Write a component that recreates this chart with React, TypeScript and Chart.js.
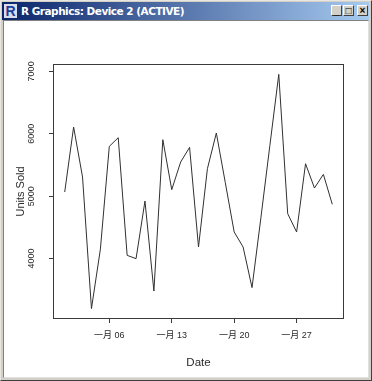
import React, { useEffect, useRef } from "react";
import { Chart, registerables } from "chart.js";

Chart.register(...registerables);

// Day of January 1..31
const days = [1, 2, 3, 4, 5, 6, 7, 8, 9, 10, 11, 12, 13, 14, 15, 16, 17, 18, 19, 20, 21, 22, 23, 24, 25, 26, 27, 28, 29, 30, 31];
const unitsSold = [5066, 6108, 5306, 3197, 4150, 5798, 5937, 4051, 3998, 4922, 3479, 5905, 5104, 5547, 5782, 4185, 5440, 6012, 5220, 4425, 4185, 3534, 4660, 5810, 6952, 4719, 4425, 5520, 5130, 5349, 4869];
const yTicks = [4000, 5000, 6000, 7000];
const xTickDays = [6, 13, 20, 27];
const xTickLabels = ["一月 06", "一月 13", "一月 20", "一月 27"];
const windowTitle = "R Graphics: Device 2 (ACTIVE)";
const xTitle = "Date";
const yTitle = "Units Sold";

const FONT = "'Liberation Sans', Arial, 'Noto Sans CJK SC', sans-serif";
const INK = "#2a2a2a";

export default function App() {
  const ref = useRef<HTMLCanvasElement | null>(null);

  useEffect(() => {
    if (!ref.current) return;
    const yMinD = Math.min(...unitsSold);
    const yMaxD = Math.max(...unitsSold);
    const yPad = (yMaxD - yMinD) * 0.04;
    const xPad = (days[days.length - 1] - days[0]) * 0.04;

    const boxPlugin = {
      id: "rbox",
      afterDraw(chart: any) {
        const { ctx, chartArea: a } = chart;
        ctx.save();
        ctx.strokeStyle = "#3a3a3a";
        ctx.lineWidth = 1;
        ctx.strokeRect(a.left - 0.5, a.top - 0.5, a.right - a.left + 1, a.bottom - a.top + 1);
        ctx.restore();
      },
    };

    const chart = new Chart(ref.current, {
      type: "line",
      data: {
        datasets: [
          {
            data: days.map((d, i) => ({ x: d, y: unitsSold[i] })),
            borderColor: "#303030",
            borderWidth: 1,
            pointRadius: 0,
            tension: 0,
            fill: false,
          },
        ],
      },
      options: {
        responsive: false,
        animation: false,
        events: [],
        layout: { padding: { top: 65, right: 29, left: 0, bottom: 0 } },
        plugins: { legend: { display: false }, tooltip: { enabled: false } },
        scales: {
          x: {
            type: "linear",
            min: days[0] - xPad,
            max: days[days.length - 1] + xPad,
            afterBuildTicks: (s: any) => {
              s.ticks = xTickDays.map((v) => ({ value: v }));
            },
            afterFit: (s: any) => {
              s.height = 63;
            },
            border: { display: false },
            grid: { drawOnChartArea: false, drawTicks: true, tickLength: 5, color: "#3a3a3a" },
            ticks: {
              autoSkip: false,
              maxRotation: 0,
              padding: 7,
              color: INK,
              font: { family: FONT, size: 9 },
              callback: (v: any) => {
                const i = xTickDays.indexOf(Number(v));
                return i >= 0 ? xTickLabels[i] : "";
              },
            },
            title: {
              display: true,
              text: xTitle,
              color: INK,
              font: { family: FONT, size: 11.5 },
              padding: { top: 0, bottom: 11 },
            },
          },
          y: {
            type: "linear",
            min: yMinD - yPad,
            max: yMaxD + yPad,
            afterBuildTicks: (s: any) => {
              s.ticks = yTicks.map((v) => ({ value: v }));
            },
            afterFit: (s: any) => {
              s.width = 54;
            },
            border: { display: false },
            grid: { drawOnChartArea: false, drawTicks: true, tickLength: 5, color: "#3a3a3a" },
            ticks: {
              autoSkip: false,
              minRotation: 90,
              maxRotation: 90,
              crossAlign: "center",
              padding: 7,
              color: INK,
              font: { family: FONT, size: 9 },
              callback: (v: any) => String(v),
            },
            title: {
              display: true,
              text: yTitle,
              color: INK,
              font: { family: FONT, size: 11 },
              padding: { top: 14, bottom: 0 },
            },
          },
        },
      },
      plugins: [boxPlugin],
    } as any);
    return () => chart.destroy();
  }, []);

  return (
    <div
      style={{
        position: "fixed",
        left: 0,
        top: 0,
        width: 372,
        height: 381,
        background: "#d4d0c8",
        boxSizing: "border-box",
        borderLeft: "1px solid #e8e6e0",
        borderTop: "1px solid #e8e6e0",
        borderRight: "1px solid #404040",
        borderBottom: "1px solid #404040",
        overflow: "hidden",
      }}
    >
      <div
        style={{
          position: "absolute",
          left: 1,
          top: 1,
          width: 367,
          height: 18,
          background: "linear-gradient(to right, #0a246a, #a6caf0)",
        }}
      >
        <div
          style={{
            position: "absolute",
            left: 2,
            top: 2,
            width: 13,
            height: 14,
            background: "#d8dcec",
            color: "#1a3c9a",
            fontFamily: FONT,
            fontWeight: 700,
            fontSize: 14,
            lineHeight: "14px",
            textAlign: "center",
          }}
        >
          R
        </div>
        <div
          style={{
            position: "absolute",
            left: 19,
            top: 2,
            color: "#ffffff",
            fontFamily: "'DejaVu Sans', Verdana, sans-serif",
            fontWeight: 700,
            fontSize: 10.5,
            lineHeight: "14px",
            whiteSpace: "nowrap",
            letterSpacing: -0.5,
          }}
        >
          {windowTitle}
        </div>
        {["_", "□", "×"].map((g, i) => (
          <div
            key={i}
            style={{
              position: "absolute",
              left: 329 + i * 12 + (i === 2 ? 2 : 0),
              top: 3,
              width: 11,
              height: 11,
              boxSizing: "border-box",
              background: "#d4d0c8",
              borderLeft: "1px solid #ffffff",
              borderTop: "1px solid #ffffff",
              borderRight: "1px solid #404040",
              borderBottom: "1px solid #404040",
              color: "#000",
              fontFamily: FONT,
              fontWeight: 700,
              fontSize: 10,
              lineHeight: "9px",
              textAlign: "center",
            }}
          >
            {g}
          </div>
        ))}
      </div>
      <div
        style={{
          position: "absolute",
          left: 2,
          top: 19,
          width: 366,
          height: 358,
          boxSizing: "border-box",
          background: "#ffffff",
          borderLeft: "1px solid #808080",
          borderTop: "1px solid #808080",
          borderRight: "1px solid #e0e0e0",
          borderBottom: "1px solid #e0e0e0",
        }}
      />
      <canvas
        ref={ref}
        width={372}
        height={381}
        style={{ position: "absolute", left: -1, top: -1, width: 372, height: 381 }}
      />
    </div>
  );
}
